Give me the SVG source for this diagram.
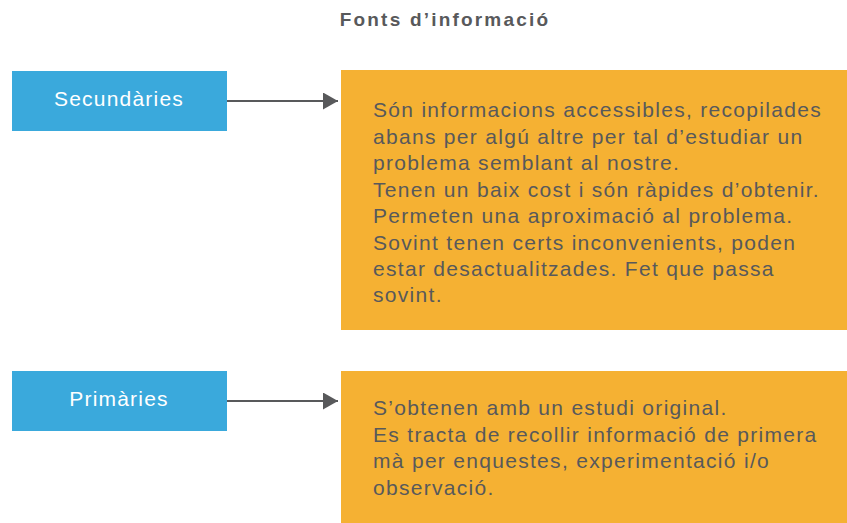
<svg xmlns="http://www.w3.org/2000/svg" width="847" height="523" viewBox="0 0 847 523">
<defs>
<style>
.title{font-family:"Liberation Sans",Arial,sans-serif;font-weight:bold;font-size:19px;fill:#58595b;letter-spacing:2.2px}
.lbl{font-family:"Liberation Sans",Arial,sans-serif;font-size:21px;fill:#ffffff;letter-spacing:1.2px}
.body{font-family:"Liberation Sans",Arial,sans-serif;font-size:21px;fill:#58595b;letter-spacing:1.3px}
.blue{fill:#3aa9dc}
.orange{fill:#f5b133}
.conn{stroke:#58595b;stroke-width:2;fill:none}
</style>
<marker id="ah" markerUnits="userSpaceOnUse" markerWidth="16" markerHeight="17" refX="15" refY="8.5" orient="auto">
<path d="M0,0 L15,8.5 L0,17 Z" fill="#58595b"/>
</marker>
</defs>
<rect width="847" height="523" fill="#ffffff"/>
<text class="title" x="445" y="26" text-anchor="middle">Fonts d’informació</text>
<g id="connectors">
<line class="conn" x1="227" y1="101" x2="338" y2="101" marker-end="url(#ah)"/>
<line class="conn" x1="227" y1="401" x2="338" y2="401" marker-end="url(#ah)"/>
</g>
<g id="secundaries">
<rect class="blue" x="12" y="71" width="215" height="60"/>
<text class="lbl" x="119" y="106" text-anchor="middle">Secundàries</text>
</g>
<g id="secundaries-desc">
<rect class="orange" x="341" y="70" width="506" height="260"/>
<text class="body">
<tspan x="373" y="117">Són informacions accessibles, recopilades</tspan>
<tspan x="373" y="143.5">abans per algú altre per tal d’estudiar un</tspan>
<tspan x="373" y="170">problema semblant al nostre.</tspan>
<tspan x="373" y="196.5">Tenen un baix cost i són ràpides d’obtenir.</tspan>
<tspan x="373" y="223">Permeten una aproximació al problema.</tspan>
<tspan x="373" y="249.5">Sovint tenen certs inconvenients, poden</tspan>
<tspan x="373" y="276">estar desactualitzades. Fet que passa</tspan>
<tspan x="373" y="302">sovint.</tspan>
</text>
</g>
<g id="primaries">
<rect class="blue" x="12" y="371" width="215" height="60"/>
<text class="lbl" x="119" y="406" text-anchor="middle">Primàries</text>
</g>
<g id="primaries-desc">
<rect class="orange" x="341" y="371" width="506" height="152"/>
<text class="body">
<tspan x="373" y="415">S’obtenen amb un estudi original.</tspan>
<tspan x="373" y="441.5">Es tracta de recollir informació de primera</tspan>
<tspan x="373" y="468">mà per enquestes, experimentació i/o</tspan>
<tspan x="373" y="494.5">observació.</tspan>
</text>
</g>
</svg>
